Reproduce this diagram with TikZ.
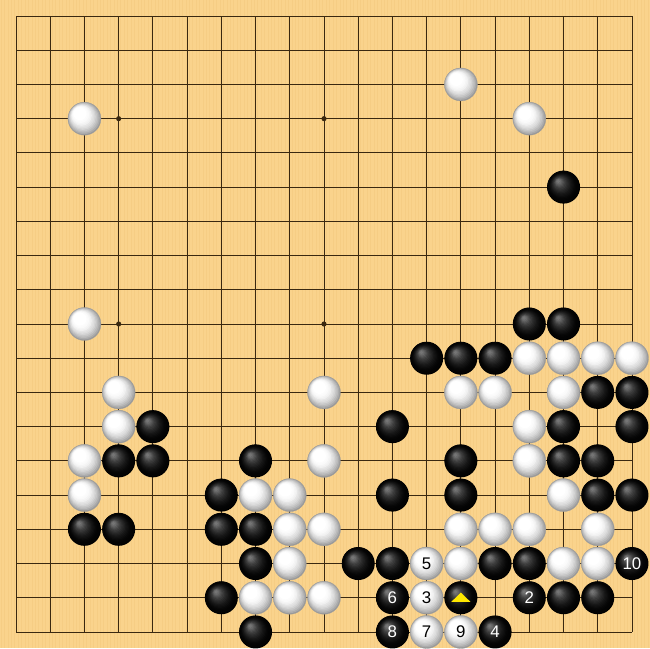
\documentclass[tikz,border=0pt]{standalone}
\usepackage{fontspec}
\setmainfont{Liberation Sans}

\definecolor{boardcolor}{RGB}{250,211,140}
\definecolor{graincolor}{RGB}{236,190,110}
\definecolor{gridcolor}{RGB}{58,40,16}
\definecolor{markcolor}{RGB}{255,232,0}

\tikzset{
  wlayers/.style={path picture={
    \foreach \k in {1,...,16} {
      \pgfmathsetmacro{\rr}{0.49*(1-\k/18)}
      \pgfmathsetmacro{\t}{max(0,1-\k/12)}
      \pgfmathtruncatemacro{\pc}{40*\t*\t}
      \fill[black!\pc] (path picture bounding box.center) ++({-0.215*\k/18},{-0.235*\k/18}) circle (\rr);
    }}},
  blayers/.style={path picture={
    \foreach \k in {1,...,16} {
      \pgfmathsetmacro{\rr}{0.49*(1-\k/18)}
      \pgfmathtruncatemacro{\pc}{100-46*(\k/16)*(\k/16)}
      \fill[black!\pc] (path picture bounding box.center) ++({-0.17*\k/18},{-0.19*\k/18}) circle (\rr);
    }}}
}

\begin{document}
\begin{tikzpicture}[x=1cm, y=-1cm,
  stone/.style={circle, minimum size=0.965cm, inner sep=0pt,
    font=\fontsize{14}{14}\selectfont},
  wstone/.style={stone, fill=black!40, wlayers, draw=black!38, line width=0.25pt, text=black},
  bstone/.style={stone, fill=black, blayers, text=white}]

  \def\lines{19}
  \pgfmathtruncatemacro{\last}{\lines-1}

  % board
  \useasboundingbox (-0.4676,-0.4676) rectangle (18.527,18.469);
  \fill[boardcolor] (-0.4676,-0.4676) rectangle (18.527,18.469);
  \foreach \g in {0,...,189} {
    \draw[graincolor, opacity=0.25, line width=0.4pt] ({-0.44+\g*0.1},-0.4676) -- ++(0,18.94);
  }

  \foreach \i in {0,...,\last} {
    \draw[gridcolor, line width=0.75pt] (\i,0) -- (\i,\last);
    \draw[gridcolor, line width=0.75pt] (0,\i) -- (\last,\i);
  }

  \foreach \x in {3,9,15} {
    \foreach \y in {3,9,15} {
      \fill[gridcolor] (\x,\y) circle (0.075);
    }
  }

  % black stones
  \foreach \c/\r in {16/5, 15/9, 16/9, 12/10, 13/10, 14/10, 17/11, 18/11,
      4/12, 11/12, 16/12, 18/12, 3/13, 4/13, 7/13, 13/13, 16/13, 17/13,
      6/14, 11/14, 13/14, 17/14, 18/14, 2/15, 3/15, 6/15, 7/15,
      7/16, 10/16, 11/16, 14/16, 15/16, 6/17, 13/17, 16/17, 17/17, 7/18} {
    \node[bstone] (b-\c-\r) at (\c,\r) {};
  }

  % white stones
  \foreach \c/\r in {13/2, 2/3, 15/3, 2/9, 15/10, 16/10, 17/10, 18/10,
      3/11, 9/11, 13/11, 14/11, 16/11, 3/12, 15/12, 2/13, 9/13, 15/13,
      2/14, 7/14, 8/14, 16/14, 8/15, 9/15, 13/15, 14/15, 15/15, 17/15,
      8/16, 13/16, 16/16, 17/16, 7/17, 8/17, 9/17} {
    \node[wstone] (w-\c-\r) at (\c,\r) {};
  }

  % numbered moves
  \node[bstone] (m2) at (15,17) {2};
  \node[wstone] (m3) at (12,17) {3};
  \node[bstone] (m4) at (14,18) {4};
  \node[wstone] (m5) at (12,16) {5};
  \node[bstone] (m6) at (11,17) {6};
  \node[wstone] (m7) at (12,18) {7};
  \node[bstone] (m8) at (11,18) {8};
  \node[wstone] (m9) at (13,18) {9};
  \node[bstone] (m10) at (18,16) {10};

  % last mark
  \fill[markcolor] (b-13-17) ++(-0.28,0.12) -- ++(0.56,0) -- ++(-0.28,-0.27) -- cycle;

\end{tikzpicture}
\end{document}
